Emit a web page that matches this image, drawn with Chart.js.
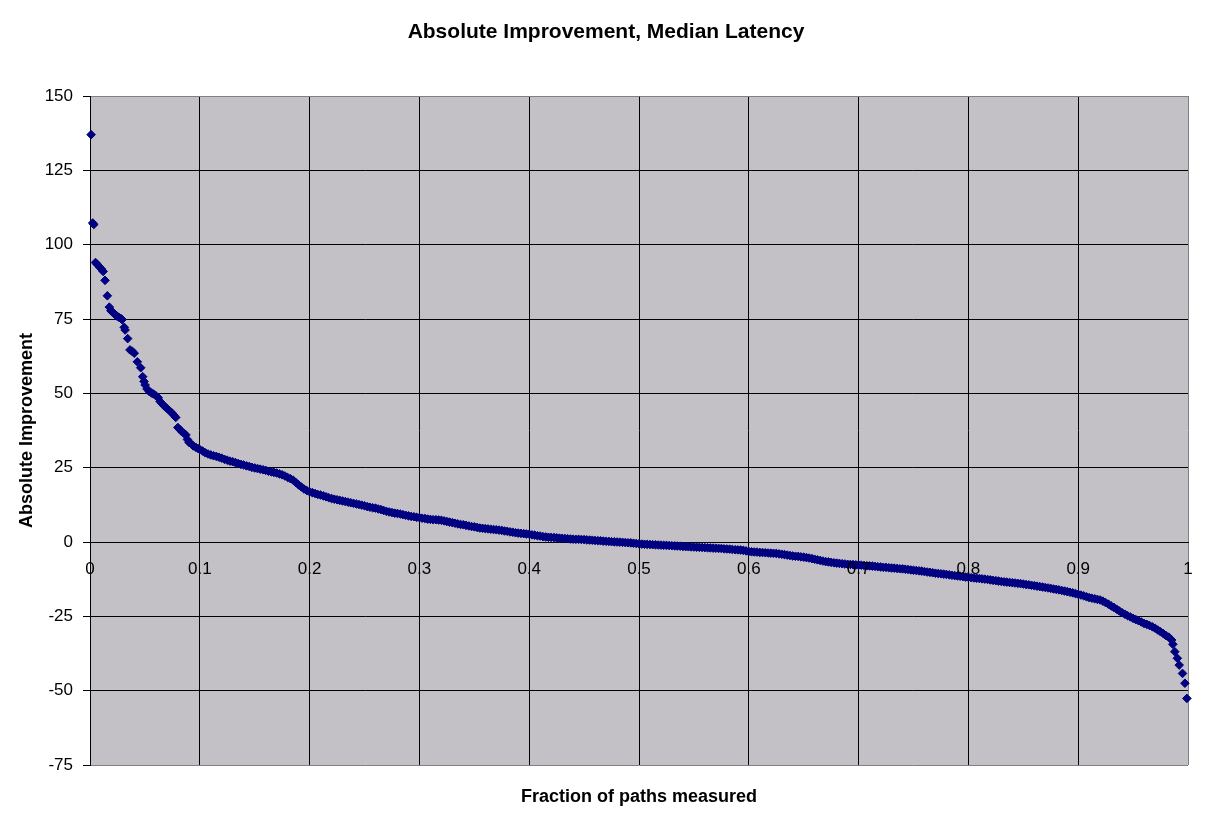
<!DOCTYPE html>
<html>
<head>
<meta charset="utf-8">
<script src="https://cdn.jsdelivr.net/npm/chart.js@4"></script>
<style>
html,body{margin:0;padding:0;background:#ffffff;}
#wrap{width:1212px;height:822px;}
</style>
</head>
<body>
<div id="wrap"><canvas id="c" width="1212" height="822"></canvas></div>
<script>
const chartTitle = 'Absolute Improvement, Median Latency';
const xTitle = 'Fraction of paths measured';
const yTitle = 'Absolute Improvement';
const xTickLabels = ['0','0.1','0.2','0.3','0.4','0.5','0.6','0.7','0.8','0.9','1'];
const yTickValues = [-75,-50,-25,0,25,50,75,100,125,150];

const fraction = [
0.0010,0.0025,0.0035,0.0050,0.0068,0.0086,0.0104,0.0120,0.0137,0.0158,
0.0176,0.0190,0.0208,0.0226,0.0244,0.0262,0.0280,0.0292,0.0312,0.0320,
0.0343,0.0364,0.0383,0.0403,0.0431,0.0462,0.0480,0.0492,0.0502,0.0519,
0.0540,0.0560,0.0578,0.0600,0.0622,0.0638,0.0654,0.0674,0.0699,0.0720,
0.0744,0.0765,0.0781,0.0800,0.0818,0.0836,0.0856,0.0874,0.0887,0.0902,
0.0924,0.0941,0.0965,0.0985,
0.1000,0.1025,0.1050,0.1075,0.1100,0.1125,0.1150,0.1175,0.1200,0.1225,
0.1250,0.1275,0.1300,0.1325,0.1350,0.1375,0.1400,0.1425,0.1450,0.1475,
0.1500,0.1525,0.1550,0.1575,0.1600,0.1625,0.1650,0.1675,0.1700,0.1725,
0.1750,0.1775,0.1800,0.1825,0.1850,0.1875,0.1900,0.1925,0.1950,0.1975,
0.2000,0.2025,0.2050,0.2075,0.2100,0.2125,0.2150,0.2175,0.2200,0.2225,
0.2250,0.2275,0.2300,0.2325,0.2350,0.2375,0.2400,0.2425,0.2450,0.2475,
0.2500,0.2525,0.2550,0.2575,0.2600,0.2625,0.2650,0.2675,0.2700,0.2725,
0.2750,0.2775,0.2800,0.2825,0.2850,0.2875,0.2900,0.2925,0.2950,0.2975,
0.3000,0.3025,0.3050,0.3075,0.3100,0.3125,0.3150,0.3175,0.3200,0.3225,
0.3250,0.3275,0.3300,0.3325,0.3350,0.3375,0.3400,0.3425,0.3450,0.3475,
0.3500,0.3525,0.3550,0.3575,0.3600,0.3625,0.3650,0.3675,0.3700,0.3725,
0.3750,0.3775,0.3800,0.3825,0.3850,0.3875,0.3900,0.3925,0.3950,0.3975,
0.4000,0.4025,0.4050,0.4075,0.4100,0.4125,0.4150,0.4175,0.4200,0.4225,
0.4250,0.4275,0.4300,0.4325,0.4350,0.4375,0.4400,0.4425,0.4450,0.4475,
0.4500,0.4525,0.4550,0.4575,0.4600,0.4625,0.4650,0.4675,0.4700,0.4725,
0.4750,0.4775,0.4800,0.4825,0.4850,0.4875,0.4900,0.4925,0.4950,0.4975,
0.5000,0.5025,0.5050,0.5075,0.5100,0.5125,0.5150,0.5175,0.5200,0.5225,
0.5250,0.5275,0.5300,0.5325,0.5350,0.5375,0.5400,0.5425,0.5450,0.5475,
0.5500,0.5525,0.5550,0.5575,0.5600,0.5625,0.5650,0.5675,0.5700,0.5725,
0.5750,0.5775,0.5800,0.5825,0.5850,0.5875,0.5900,0.5925,0.5950,0.5975,
0.6000,0.6025,0.6050,0.6075,0.6100,0.6125,0.6150,0.6175,0.6200,0.6225,
0.6250,0.6275,0.6300,0.6325,0.6350,0.6375,0.6400,0.6425,0.6450,0.6475,
0.6500,0.6525,0.6550,0.6575,0.6600,0.6625,0.6650,0.6675,0.6700,0.6725,
0.6750,0.6775,0.6800,0.6825,0.6850,0.6875,0.6900,0.6925,0.6950,0.6975,
0.7000,0.7025,0.7050,0.7075,0.7100,0.7125,0.7150,0.7175,0.7200,0.7225,
0.7250,0.7275,0.7300,0.7325,0.7350,0.7375,0.7400,0.7425,0.7450,0.7475,
0.7500,0.7525,0.7550,0.7575,0.7600,0.7625,0.7650,0.7675,0.7700,0.7725,
0.7750,0.7775,0.7800,0.7825,0.7850,0.7875,0.7900,0.7925,0.7950,0.7975,
0.8000,0.8025,0.8050,0.8075,0.8100,0.8125,0.8150,0.8175,0.8200,0.8225,
0.8250,0.8275,0.8300,0.8325,0.8350,0.8375,0.8400,0.8425,0.8450,0.8475,
0.8500,0.8525,0.8550,0.8575,0.8600,0.8625,0.8650,0.8675,0.8700,0.8725,
0.8750,0.8775,0.8800,0.8825,0.8850,0.8875,0.8900,0.8925,0.8950,0.8975,
0.9000,0.9025,0.9050,0.9075,0.9100,0.9125,0.9150,0.9175,0.9200,0.9225,
0.9250,0.9275,0.9300,0.9325,0.9350,0.9375,0.9400,0.9425,0.9450,0.9475,
0.9500,0.9525,0.9550,0.9575,0.9600,0.9625,0.9650,0.9675,0.9700,0.9725,
0.9750,0.9775,0.9800,0.9825,
0.9852,0.9862,0.9880,0.9903,0.9920,0.9950,0.9972,0.9990
];

const improvement = [
137.0,107.3,106.8,94.0,93.3,92.5,91.8,91.0,88.0,82.8,
79.0,77.8,77.2,76.6,76.0,75.6,75.2,74.8,72.2,71.3,
68.4,64.6,64.2,63.5,60.6,58.6,55.6,54.0,52.8,51.5,
50.6,50.1,49.8,49.2,48.5,47.3,46.6,45.8,45.0,44.3,
43.5,42.6,41.9,38.5,37.8,37.1,36.5,36.0,34.5,33.5,
32.9,32.3,31.8,31.4,
31.1,30.6,30.0,29.6,29.3,29.0,28.8,28.5,28.2,27.8,
27.5,27.2,27.0,26.7,26.4,26.1,25.9,25.6,25.4,25.1,
24.9,24.7,24.5,24.3,24.1,23.8,23.6,23.4,23.2,22.9,
22.6,22.2,21.7,21.3,20.8,20.0,19.2,18.5,17.8,17.3,
16.9,16.6,16.3,16.0,15.8,15.5,15.2,14.9,14.6,14.4,
14.2,14.0,13.8,13.6,13.4,13.2,13.0,12.8,12.6,12.4,
12.2,11.9,11.7,11.5,11.4,11.1,10.9,10.6,10.3,10.1,
9.9,9.7,9.6,9.4,9.2,9.0,8.8,8.6,8.5,8.3,
8.2,8.0,7.9,7.7,7.6,7.5,7.5,7.4,7.3,7.1,
6.9,6.7,6.5,6.3,6.1,5.9,5.8,5.6,5.4,5.2,
5.1,4.9,4.7,4.6,4.5,4.4,4.3,4.2,4.1,4.0,
3.9,3.7,3.6,3.4,3.3,3.1,3.0,2.9,2.8,2.7,
2.6,2.4,2.3,2.1,2.0,1.8,1.7,1.6,1.55,1.5,
1.4,1.3,1.25,1.2,1.1,1.0,0.95,0.9,0.9,0.85,
0.8,0.7,0.65,0.6,0.5,0.45,0.4,0.3,0.25,0.2,
0.1,0.05,0.0,-0.05,-0.1,-0.2,-0.25,-0.3,-0.4,-0.5,
-0.6,-0.7,-0.75,-0.8,-0.85,-0.9,-0.95,-1.0,-1.05,-1.1,
-1.15,-1.2,-1.25,-1.3,-1.35,-1.4,-1.5,-1.55,-1.6,-1.65,
-1.7,-1.75,-1.8,-1.85,-1.9,-1.95,-2.0,-2.05,-2.1,-2.15,
-2.2,-2.3,-2.35,-2.4,-2.5,-2.6,-2.65,-2.7,-2.8,-3.0,
-3.2,-3.3,-3.35,-3.4,-3.5,-3.55,-3.6,-3.7,-3.75,-3.8,
-3.85,-4.0,-4.1,-4.25,-4.4,-4.55,-4.7,-4.8,-4.85,-5.0,
-5.1,-5.25,-5.4,-5.6,-5.8,-6.0,-6.2,-6.4,-6.6,-6.7,
-6.85,-7.0,-7.1,-7.2,-7.3,-7.4,-7.5,-7.55,-7.6,-7.7,
-7.75,-7.8,-7.9,-8.0,-8.05,-8.1,-8.2,-8.3,-8.4,-8.5,
-8.55,-8.65,-8.75,-8.8,-8.9,-9.0,-9.05,-9.15,-9.25,-9.4,
-9.5,-9.6,-9.7,-9.8,-9.95,-10.1,-10.2,-10.35,-10.5,-10.6,
-10.7,-10.8,-10.9,-11.05,-11.2,-11.3,-11.4,-11.5,-11.65,-11.8,
-11.9,-12.0,-12.1,-12.2,-12.3,-12.4,-12.5,-12.6,-12.75,-12.9,
-13.0,-13.15,-13.3,-13.4,-13.5,-13.6,-13.7,-13.8,-13.9,-14.0,
-14.15,-14.3,-14.4,-14.55,-14.7,-14.85,-15.0,-15.15,-15.3,-15.45,
-15.6,-15.8,-15.95,-16.1,-16.3,-16.5,-16.7,-16.9,-17.1,-17.35,
-17.6,-17.85,-18.1,-18.4,-18.7,-18.9,-19.1,-19.3,-19.5,-19.9,
-20.4,-20.9,-21.5,-22.0,-22.6,-23.2,-23.8,-24.3,-24.8,-25.2,
-25.7,-26.1,-26.5,-26.9,-27.4,-27.7,-28.1,-28.5,-29.0,-29.6,
-30.2,-30.8,-31.5,-32.0,
-33.0,-34.4,-36.9,-39.1,-41.4,-44.2,-47.5,-52.6
];

const FONT = "'Liberation Sans', Arial, Helvetica, sans-serif";
const PLOT_BG = '#C3C1C5';
const EDGE = '#808080';
const MARK = '#000080';

Chart.defaults.font.family = FONT;
Chart.defaults.color = '#000000';

const plotBg = {
  id: 'plotBg',
  beforeDraw(chart) {
    const {ctx, chartArea: a} = chart;
    ctx.save();
    ctx.fillStyle = PLOT_BG;
    ctx.fillRect(a.left, a.top, a.right - a.left, a.bottom - a.top);
    ctx.restore();
  }
};

const points = fraction.map((f, i) => ({x: f, y: improvement[i]}));
const yMin = yTickValues[0], yMax = yTickValues[yTickValues.length - 1];

new Chart(document.getElementById('c'), {
  type: 'scatter',
  data: {
    datasets: [{
      data: points,
      pointStyle: 'rectRot',
      pointRadius: 4.3,
      pointBorderWidth: 1,
      pointBackgroundColor: MARK,
      pointBorderColor: MARK,
      showLine: false,
      clip: false
    }]
  },
  options: {
    responsive: false,
    animation: false,
    devicePixelRatio: 1,
    layout: {padding: {left: 0, right: 0, top: 0, bottom: 0}},
    plugins: {
      legend: {display: false},
      tooltip: {enabled: false},
      title: {
        display: true,
        text: chartTitle,
        color: '#000',
        font: {size: 21, weight: 'bold', family: FONT},
        padding: {top: 19.4, bottom: 51.4}
      }
    },
    scales: {
      x: {
        type: 'linear',
        position: {y: 0},
        min: 0, max: 1,
        afterFit: (s) => { s.height = 0; },
        grid: {
          drawTicks: false,
          color: (c) => (c.tick && c.tick.value >= 0.999) ? EDGE : '#000000',
          lineWidth: 1
        },
        border: {display: true, color: '#000000', width: 1},
        ticks: {
          stepSize: 0.1,
          autoSkip: false,
          maxRotation: 0,
          padding: 17,
          z: 1,
          color: '#000',
          font: {size: 17, family: FONT},
          callback: (v) => xTickLabels[Math.round(v * 10)]
        },
        title: {display: false}
      },
      x2: {
        type: 'linear',
        position: 'bottom',
        min: 0, max: 1,
        afterFit: (s) => { s.height = 57; },
        grid: {display: false, drawTicks: false},
        border: {display: false},
        ticks: {display: false},
        title: {
          display: true,
          text: xTitle,
          color: '#000',
          font: {size: 18, weight: 'bold', family: FONT},
          padding: {top: 22, bottom: 14.2}
        }
      },
      y: {
        type: 'linear',
        position: 'left',
        min: yMin, max: yMax,
        afterFit: (s) => { s.width = 90; },
        afterBuildTicks: (s) => { s.ticks = yTickValues.map(v => ({value: v})); },
        grid: {
          color: (c) => (c.tick && (c.tick.value === yMax || c.tick.value === yMin)) ? EDGE : '#000000',
          tickColor: '#000000',
          tickLength: 7,
          lineWidth: 1
        },
        border: {display: true, color: '#000000', width: 1},
        ticks: {
          padding: 10,
          color: '#000',
          font: {size: 17, family: FONT}
        },
        title: {
          display: true,
          text: yTitle,
          color: '#000',
          font: {size: 18, weight: 'bold', family: FONT},
          padding: {top: 16.2, bottom: 4}
        }
      },
      ySpace: {
        type: 'linear',
        position: 'right',
        min: yMin, max: yMax,
        afterFit: (s) => { s.width = 24; },
        grid: {display: false, drawTicks: false},
        border: {display: false},
        ticks: {display: false},
        title: {display: false}
      }
    }
  },
  plugins: [plotBg]
});
</script>
</body>
</html>
